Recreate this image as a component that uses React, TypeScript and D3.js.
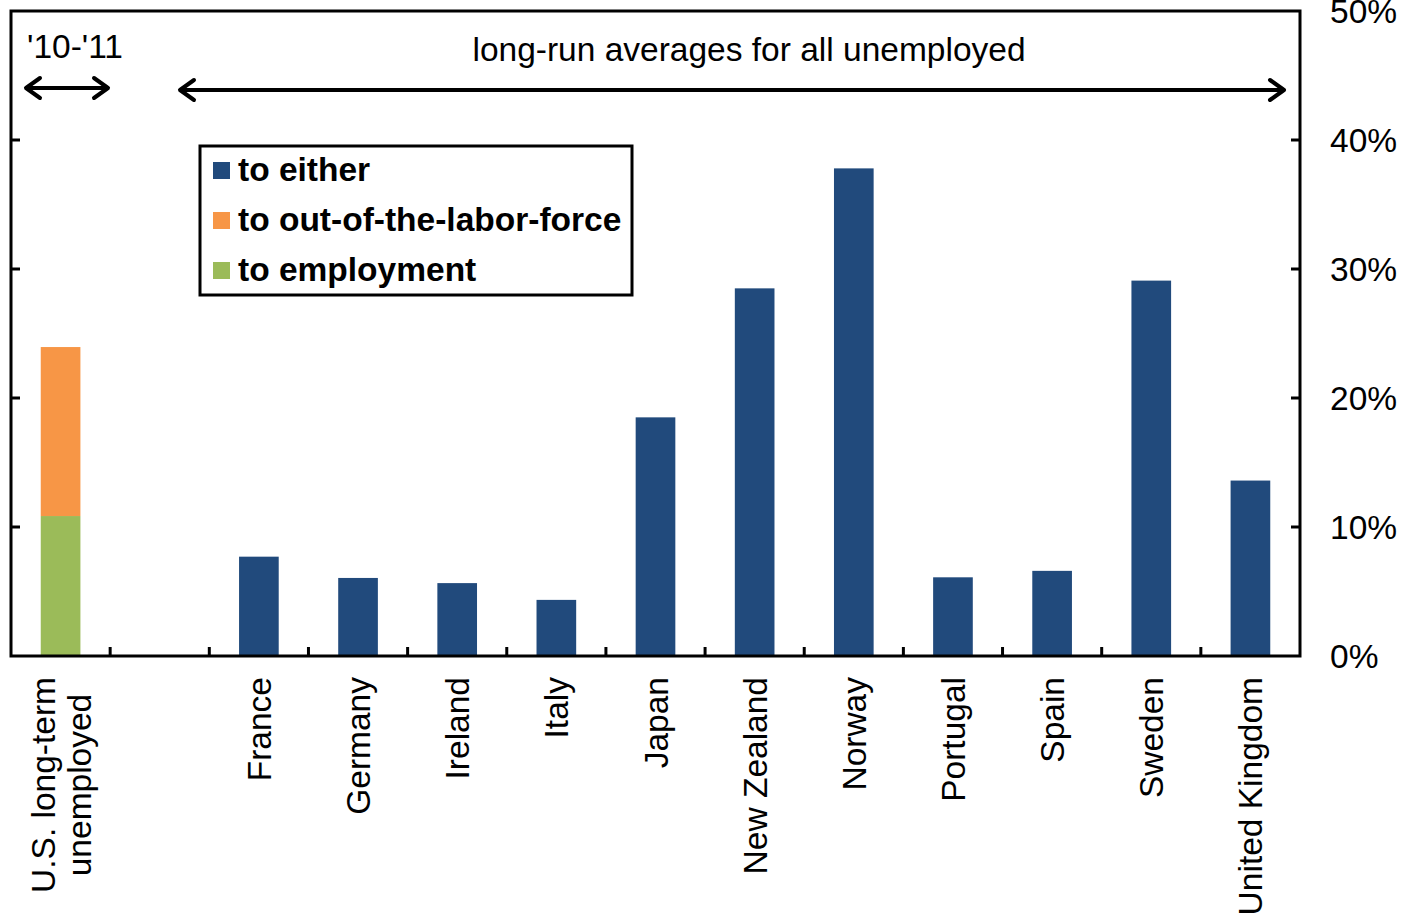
import React from "react";
import * as d3 from "d3";

const categories = ["U.S. long-term|unemployed", "", "France", "Germany", "Ireland", "Italy", "Japan", "New Zealand", "Norway", "Portugal", "Spain", "Sweden", "United Kingdom"];
const toEither = [null, null, 7.7, 6.05, 5.65, 4.35, 18.5, 28.5, 37.8, 6.1, 6.6, 29.1, 13.6];
const toEmployment = [10.85, null, null, null, null, null, null, null, null, null, null, null, null];
const toOLF = [13.1, null, null, null, null, null, null, null, null, null, null, null, null];
const yTicks = [0, 10, 20, 30, 40, 50];
const legendItems = [
  { label: "to either", color: "#214a7c" },
  { label: "to out-of-the-labor-force", color: "#f79646" },
  { label: "to employment", color: "#9bbb59" },
];

const W = 1403, H = 914;
const L = 11, R = 1300, T = 11, B = 656;
const FONT = "Liberation Sans, Arial, sans-serif";
const FS = 33.5;

export default function App() {
  const idx = categories.map((_, i) => String(i));
  const x = d3.scaleBand().domain(idx).range([L, R]).paddingInner(0).paddingOuter(0);
  const y = d3.scaleLinear().domain([0, 50]).range([B, T]);
  const bw = x.bandwidth() * 0.4;
  const cx = (i: number) => (x(String(i)) as number) + x.bandwidth() / 2;
  const arrowHead = (xx: number, yy: number, dir: number) =>
    `M${xx - dir * 14},${yy - 10} L${xx},${yy} L${xx - dir * 14},${yy + 10}`;

  return (
    <svg width={W} height={H} style={{ display: "block", position: "absolute", left: 0, top: 0 }} fontFamily={FONT}>
      <rect width={W} height={H} fill="#fff" />
      {/* bars */}
      {toEither.map((v, i) =>
        v == null ? null : (
          <rect key={"e" + i} x={cx(i) - bw / 2} y={y(v)} width={bw} height={B - y(v)} fill="#214a7c" />
        )
      )}
      {toEmployment.map((v, i) =>
        v == null ? null : (
          <rect key={"m" + i} x={cx(i) - bw / 2} y={y(v)} width={bw} height={B - y(v)} fill="#9bbb59" />
        )
      )}
      {toOLF.map((v, i) => {
        if (v == null) return null;
        const base = toEmployment[i] || 0;
        return <rect key={"o" + i} x={cx(i) - bw / 2} y={y(base + v)} width={bw} height={y(base) - y(base + v)} fill="#f79646" />;
      })}
      {/* frame */}
      <path d={`M${L},${B} L${L},${T} L${R},${T} L${R},${B} Z`} fill="none" stroke="#000" strokeWidth={3} />
      {/* left & right ticks */}
      {yTicks.filter((t) => t > 0 && t < 50).map((t) => (
        <g key={"t" + t}>
          <line x1={L} x2={L + 9} y1={y(t)} y2={y(t)} stroke="#000" strokeWidth={3} />
          <line x1={R - 9} x2={R} y1={y(t)} y2={y(t)} stroke="#000" strokeWidth={3} />
        </g>
      ))}
      {yTicks.map((t) => (
        <text key={"yl" + t} x={1330} y={y(t) + 12} fontSize={FS} fill="#000">{t + "%"}</text>
      ))}
      {/* bottom ticks */}
      {idx.slice(1).map((d) => (
        <line key={"bt" + d} x1={x(d) as number} x2={x(d) as number} y1={B} y2={B - 9} stroke="#000" strokeWidth={3} />
      ))}
      {/* category labels */}
      {categories.map((c, i) => {
        if (!c) return null;
        const lines = c.split("|");
        return lines.map((ln, j) => {
          const px = cx(i) + (j - (lines.length - 1) / 2) * 36 + 12;
          return (
            <text key={"c" + i + j} transform={`translate(${px},${B + 21}) rotate(-90)`} textAnchor={lines.length > 1 ? "middle" : "end"}
              dx={lines.length > 1 ? -108 : 0} fontSize={FS} fill="#000">{ln}</text>
          );
        });
      })}
      {/* annotations */}
      <text x={27} y={58} fontSize={FS} fill="#000">'10-'11</text>
      <line x1={26} x2={108} y1={88} y2={88} stroke="#000" strokeWidth={4} />
      <path d={arrowHead(26, 88, -1)} fill="none" stroke="#000" strokeWidth={4} strokeLinecap="round" strokeLinejoin="round" />
      <path d={arrowHead(108, 88, 1)} fill="none" stroke="#000" strokeWidth={4} strokeLinecap="round" strokeLinejoin="round" />
      <text x={749} y={61} fontSize={FS} textAnchor="middle" fill="#000">long-run averages for all unemployed</text>
      <line x1={180} x2={1284} y1={90} y2={90} stroke="#000" strokeWidth={4} />
      <path d={arrowHead(180, 90, -1)} fill="none" stroke="#000" strokeWidth={4} strokeLinecap="round" strokeLinejoin="round" />
      <path d={arrowHead(1284, 90, 1)} fill="none" stroke="#000" strokeWidth={4} strokeLinecap="round" strokeLinejoin="round" />
      {/* legend */}
      <rect x={200} y={146} width={432} height={149} fill="#fff" stroke="#000" strokeWidth={3} />
      {legendItems.map((it, i) => (
        <g key={"lg" + i}>
          <rect x={213} y={162 + i * 50} width={17} height={17} fill={it.color} />
          <text x={238} y={181 + i * 50} fontSize={FS} fontWeight="bold" fill="#000">{it.label}</text>
        </g>
      ))}
    </svg>
  );
}
